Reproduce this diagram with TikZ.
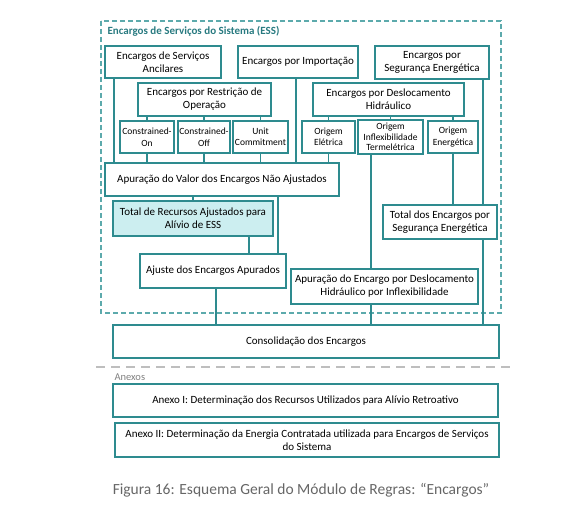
\documentclass[tikz,border=0pt]{standalone}
\usepackage{fontspec}
\setmainfont{Carlito}
\usepackage{tikz}

\definecolor{essline}{RGB}{46,139,143}
\definecolor{essdash}{RGB}{92,170,172}
\definecolor{esstext}{RGB}{40,122,128}
\definecolor{essfill}{RGB}{204,238,240}
\definecolor{annexgray}{RGB}{190,190,190}

\tikzset{
  box/.style={draw=essline,line width=1.7pt,fill=white,align=center,inner sep=1pt,
    font=\fontsize{11}{13}\selectfont},
  smallbox/.style={box,font=\fontsize{9.5}{11.5}\selectfont},
  sz/.style 2 args={minimum width=#1pt,minimum height=#2pt},
  link/.style={draw=essline,line width=1.7pt}
}

\begin{document}
\begin{tikzpicture}[x=1pt,y=-1pt]
\useasboundingbox (0,0) rectangle (575,516);

% ESS frame
\draw[essdash,line width=1.1pt,dash pattern=on 5pt off 3pt] (101,21) rectangle (501,313);
\node[anchor=west,text=esstext,font=\bfseries\fontsize{11}{13}\selectfont] (esst) at (104,31) {Encargos de Serviços do Sistema (ESS)};

% top row
\node[box,sz={116}{32}] (anc) at (163,62) {Encargos de Serviços\\Ancilares};
\node[box,sz={120}{32}] (imp) at (298,62) {Encargos por Importação};
\node[box,sz={114}{33}] (seg) at (432,62.5) {Encargos por\\Segurança Energética};

% second row
\node[box,sz={133}{33}] (res) at (204.5,99.5) {Encargos por Restrição de\\Operação};
\node[box,sz={151}{33}] (des) at (388.5,99.5) {Encargos por Deslocamento\\Hidráulico};

% third row
\begin{scope}[every node/.style={smallbox}]
    \node[sz={54}{32}] (con) at (147,137) {Constrained-\\On};
    \node[sz={52}{32}] (cof) at (204,137) {Constrained-\\Off};
    \node[sz={55}{32}] (uc) at (260.5,137) {Unit\\Commitment};
    \node[sz={53}{32}] (ele) at (328.5,137) {Origem\\Elétrica};
    \node[sz={65}{34},font=\fontsize{9.5}{10.5}\selectfont] (inf) at (390.5,137) {Origem\\Inflexibilidade\\Termelétrica};
    \node[sz={50}{32}] (ene) at (453,137) {Origem\\Energética};
\end{scope}

% lower part
\node[box,sz={234}{33}] (apv) at (222,179.5) {Apuração do Valor dos Encargos Não Ajustados};
\node[box,sz={160}{35},fill=essfill] (tot) at (193,218.5) {Total de Recursos Ajustados para\\Alívio de ESS};
\node[box,sz={146}{34}] (aju) at (213,271) {Ajuste dos Encargos Apurados};
\node[box,sz={187}{35}] (adh) at (384.5,286.5) {Apuração do Encargo por Deslocamento\\Hidráulico por Inflexibilidade};
\node[box,sz={114}{34}] (tse) at (440,222) {Total dos Encargos por\\Segurança Energética};
\node[box,sz={386}{33}] (cons) at (306,341.5) {Consolidação dos Encargos};

% annexes
\draw[annexgray,line width=2.4pt,dash pattern=on 9pt off 6pt] (96,367) -- (512,367);
\node[anchor=west,text=gray,font=\fontsize{10.5}{12}\selectfont] (anx) at (111,377) {Anexos};
\node[box,sz={385}{33}] (ax1) at (305.5,400.5) {Anexo I: Determinação dos Recursos Utilizados para Alívio Retroativo};
\node[box,sz={384}{34}] (ax2) at (307,440) {Anexo II: Determinação da Energia Contratada utilizada para Encargos de Serviços\\do Sistema};

\node[text=black!60,font=\fontsize{15.5}{17}\selectfont] (cap) at (301,490) {Figura 16: Esquema Geral do Módulo de Regras: “Encargos”};

% connectors
\begin{scope}[every path/.style={link}]
    \path (anc.south -| 114,0) edge (apv.north -| 114,0);
    \path (res.south -| con.north) edge (con.north);
    \path (res.south -| cof.north) edge (cof.north);
    \path (res.south -| uc.north) edge (uc.north);
    \path (con.south) edge (apv.north -| con.south);
    \path (cof.south) edge (apv.north -| cof.south);
    \path (uc.south) edge (apv.north -| uc.south);
    \path (imp.south -| 296,0) edge (apv.north -| 296,0);

    \path (des.south -| ele.north) edge (ele.north);
    \path (des.south -| inf.north) edge (inf.north);
    \path (des.south -| ene.north) edge (ene.north);
    \path (ele.south) edge (apv.north -| ele.south);
    \path (inf.south -| 371,0) edge (adh.north -| 371,0);
    \path (ene.south) edge (tse.north -| ene.south);
    \path (seg.south -| 483,0) edge (tse.north -| 483,0);

    \path (apv.south -| tot.north) edge (tot.north);
    \path (apv.south -| 278,0) edge (aju.north -| 278,0);
    \path (tot.south -| 249,0) edge (aju.north -| 249,0);
    \path (aju.south -| 216,0) edge (cons.north -| 216,0);
    \path (adh.south -| 371,0) edge (cons.north -| 371,0);
    \path (tse.south -| 483,0) edge (cons.north -| 483,0);
\end{scope}

\end{tikzpicture}
\end{document}
